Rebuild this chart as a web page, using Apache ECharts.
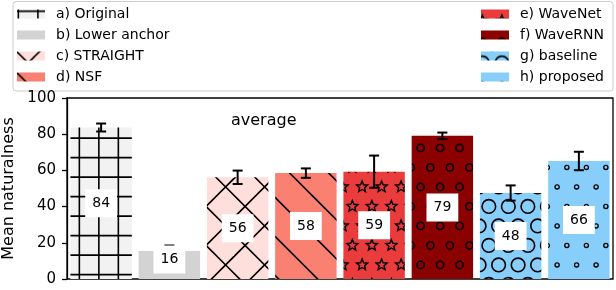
<!DOCTYPE html>
<html><head><meta charset="utf-8">
<script src="https://cdn.jsdelivr.net/npm/echarts@6/dist/echarts.min.js"></script>
<style>html,body{margin:0;padding:0;background:#fff}#c{width:616px;height:290px}</style>
</head><body><div id="c"></div>
<script>
// ---- data ----
const categories = ['a', 'b', 'c', 'd', 'e', 'f', 'g', 'h'];
const seriesNames = ['a) Original', 'b) Lower anchor', 'c) STRAIGHT', 'd) NSF',
                     'e) WaveNet', 'f) WaveRNN', 'g) baseline', 'h) proposed'];
const meanValues = [83.7, 15.5, 56.2, 58.5, 59.3, 79.1, 47.5, 65.2];
const errorValues = [2.2, 3.0, 3.7, 2.6, 8.9, 1.8, 4.2, 5.1];
const labelTexts = ['84', '16', '56', '58', '59', '79', '48', '66'];
const yTicks = [0, 20, 40, 60, 80, 100];
const panelTitle = 'average';
const yName = 'Mean naturalness';

// ---- styles ----
const FONT = 'DejaVu Sans';
const labelNudge = {1: -5.5};
const T = 39, S = 19.5, OX = 30.6, OY = 30.9;

function tile(bg, draw) {
  const c = document.createElement('canvas');
  c.width = T; c.height = T;
  const g = c.getContext('2d');
  g.fillStyle = bg; g.fillRect(0, 0, T, T);
  g.strokeStyle = '#000'; g.fillStyle = '#000'; g.lineWidth = 1.5;
  if (draw) draw(g);
  return {image: c, repeat: 'repeat'};
}
function line(g, x1, y1, x2, y2) { g.beginPath(); g.moveTo(x1, y1); g.lineTo(x2, y2); g.stroke(); }
function shapePts() {
  const pts = [];
  for (let r = 0; r < 2; r++) for (let c = 0; c < 2; c++)
    pts.push([OX + (r % 2 ? S / 2 : 0) + c * S, OY + r * S]);
  const out = [];
  for (const [x, y] of pts) for (let dx = -2; dx <= 1; dx++) for (let dy = -2; dy <= 1; dy++)
    out.push([x + dx * T, y + dy * T]);
  return out;
}
function circles(r, lw) {
  return g => { g.lineWidth = lw; for (const [x, y] of shapePts()) { g.beginPath(); g.arc(x, y, r, 0, Math.PI * 2); g.stroke(); } };
}
function stars(R, ratio) {
  return g => {
    g.lineWidth = 1.4;
    for (const [x, y] of shapePts()) {
      g.beginPath();
      for (let k = 0; k < 10; k++) {
        const rr = k % 2 ? R * ratio : R;
        const a = -Math.PI / 2 + k * Math.PI / 5;
        const px = x + rr * Math.cos(a), py = y + rr * Math.sin(a);
        k ? g.lineTo(px, py) : g.moveTo(px, py);
      }
      g.closePath(); g.stroke();
    }
  };
}
function plusGrid(g) {
  g.lineWidth = 1.6;
  for (let k = -1; k < 3; k++) {
    const x = ((OX + S / 2) % S) + k * S; line(g, x, -2, x, T + 2);
    const y = ((OY + S / 2) % S) + k * S; line(g, -2, y, T + 2, y);
  }
}
function back(g) {
  g.lineWidth = 1.6;
  const c0 = OX - OY;
  for (let k = -2; k <= 2; k++) { const c = c0 + k * T; line(g, c - 10, -10, c + 60, 60); }
}
function fwd(g) {
  g.lineWidth = 1.6;
  const d0 = (OX + OY) % T;
  for (let k = -1; k <= 3; k++) { const d = d0 + k * T; line(g, d + 10, -10, d - 60, 60); }
}

const patterns = [
  tile('#f2f2f2', plusGrid),
  tile('#d3d3d3', null),
  tile('#ffdfdb', g => { back(g); fwd(g); }),
  tile('#fa8072', back),
  tile('#ea3c3c', stars(5.8, 0.45)),
  tile('#8b0000', circles(3.6, 1.6)),
  tile('#87cefa', circles(6.8, 1.6)),
  tile('#87cefa', circles(2.1, 1.3))
];

const barSeries = seriesNames.map((name, i) => ({
  type: 'bar', name: name,
  data: meanValues.map((v, j) => (j === i ? v : '-')),
  barGap: '-100%', barCategoryGap: '10%',
  itemStyle: {color: patterns[i]},
  emphasis: {disabled: true},
  z: 2
}));

const errSeries = {
  type: 'custom', z: 5, silent: true,
  data: meanValues.map((v, i) => [i, v, errorValues[i]]),
  renderItem(params, api) {
    const i = api.value(0), v = api.value(1), e = api.value(2);
    const top = api.coord([i, v + e]), bot = api.coord([i, v - e]);
    const mid = api.coord([i, v / 2]);
    const cap = 5;
    const st = {stroke: '#000', lineWidth: 2};
    return {
      type: 'group',
      children: [
        {type: 'line', shape: {x1: top[0], y1: top[1], x2: bot[0], y2: bot[1]}, style: st},
        {type: 'line', shape: {x1: top[0] - cap, y1: top[1], x2: top[0] + cap, y2: top[1]}, style: st},
        {type: 'line', shape: {x1: bot[0] - cap, y1: bot[1], x2: bot[0] + cap, y2: bot[1]}, style: st},
        {type: 'text', x: mid[0], y: mid[1] + (labelNudge[params.dataIndex] || 0),
         style: {text: labelTexts[params.dataIndex], fill: '#000', font: '14px "DejaVu Sans"',
                 align: 'center', verticalAlign: 'middle', lineHeight: 14,
                 backgroundColor: '#fff', padding: [7, 7]}}
      ]
    };
  }
};

const chart = echarts.init(document.getElementById('c'), null, {renderer: 'canvas'});
chart.setOption({
  animation: false,
  backgroundColor: '#fff',
  textStyle: {fontFamily: FONT},
  graphic: [{type: 'rect', z: 0, shape: {x: 13, y: 1.5, width: 600, height: 89.5, r: 3},
             style: {fill: '#fff', stroke: '#cccccc', lineWidth: 1}}],
  title: {text: panelTitle, left: 231, top: 113, padding: 0,
          textStyle: {fontSize: 16, fontWeight: 'normal', color: '#000', fontFamily: FONT}},
  legend: [
    {data: seriesNames.slice(0, 4), orient: 'vertical', left: 17, top: 6, padding: 0,
     itemWidth: 28, itemHeight: 9, itemGap: 5, icon: 'rect', selectedMode: false,
     textStyle: {fontSize: 14, lineHeight: 16, color: '#000', fontFamily: FONT, padding: [0, 0, 0, 6]}},
    {data: seriesNames.slice(4), orient: 'vertical', left: 481, top: 6, padding: 0,
     itemWidth: 28, itemHeight: 9, itemGap: 5, icon: 'rect', selectedMode: false,
     textStyle: {fontSize: 14, lineHeight: 16, color: '#000', fontFamily: FONT, padding: [0, 0, 0, 6]}}
  ],
  grid: {left: 67, right: 3, top: 98, bottom: 11, show: true, borderColor: '#000', borderWidth: 1.3,
         backgroundColor: 'transparent', containLabel: false, outerBoundsMode: 'none'},
  xAxis: {type: 'category', data: categories, axisLine: {show: false}, axisTick: {show: false},
          axisLabel: {show: false}, splitLine: {show: false}},
  yAxis: {type: 'value', min: yTicks[0], max: yTicks[yTicks.length - 1], interval: yTicks[1] - yTicks[0],
          name: yName, nameLocation: 'middle', nameGap: 49,
          nameTextStyle: {fontSize: 16, color: '#000', fontFamily: FONT},
          axisLine: {show: true, lineStyle: {color: '#000', width: 1.3}},
          axisTick: {show: true, inside: false, length: 5, lineStyle: {color: '#000', width: 1.3}},
          axisLabel: {fontSize: 15, color: '#000', margin: 11, fontFamily: FONT},
          splitLine: {show: false}},
  series: barSeries.concat([errSeries])
});
</script></body></html>
